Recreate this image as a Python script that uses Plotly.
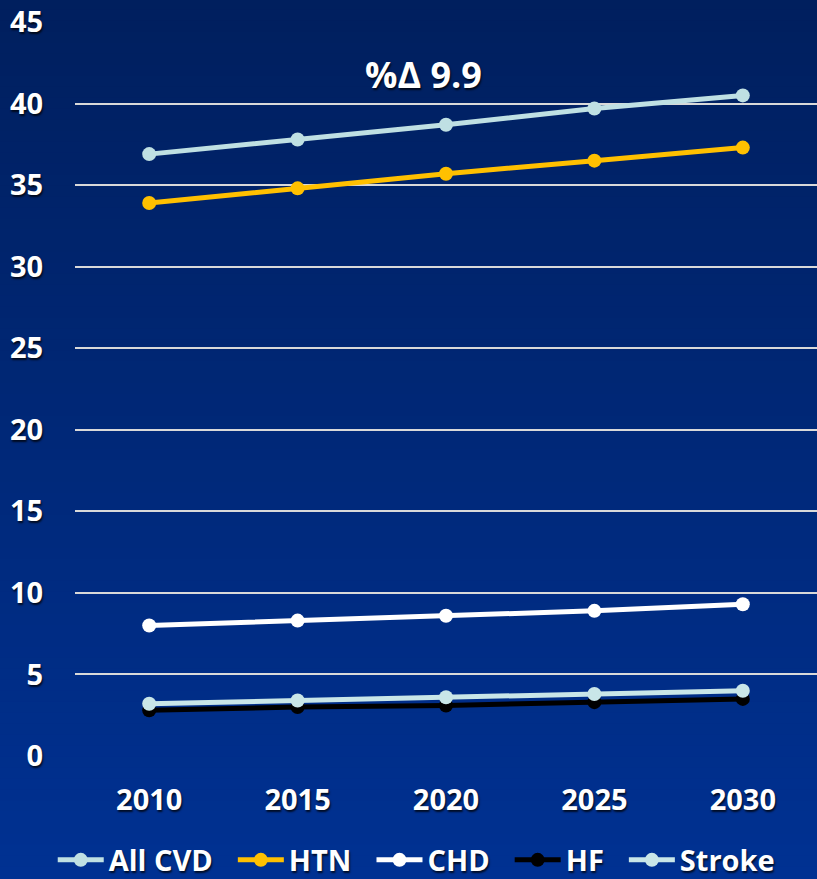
import plotly.graph_objects as go

# Projected prevalence (%) by year
years = ["2010", "2015", "2020", "2025", "2030"]
all_cvd = [36.9, 37.8, 38.7, 39.7, 40.5]
htn = [33.9, 34.8, 35.7, 36.5, 37.3]
chd = [8.0, 8.3, 8.6, 8.9, 9.3]
hf = [2.8, 3.0, 3.1, 3.3, 3.5]
stroke = [3.2, 3.4, 3.6, 3.8, 4.0]

series_names = ["All CVD", "HTN", "CHD", "HF", "Stroke"]
series_values = [all_cvd, htn, chd, hf, stroke]
series_colors = ["#BFE0E3", "#FFC000", "#FFFFFF", "#000000", "#C9E6E8"]

pct_change = round((all_cvd[-1] / all_cvd[0] - 1) * 100 + 0.1, 1)

W, H = 817, 879
ML, MR, MT, MB = 75, 0, 22, 123
FONT = "Open Sans, DejaVu Sans Condensed, sans-serif"
SHADOW = "1px 2px 2px rgba(0,0,0,0.75)"
PAD = "\u00a0\u00a0"

fig = go.Figure()
for name, vals, col in zip(series_names, series_values, series_colors):
    fig.add_trace(go.Scatter(
        x=years, y=vals, name=name + PAD, mode="lines+markers",
        line=dict(color=col, width=5),
        marker=dict(color=col, size=14),
    ))

# Vertical background gradient built from thin bands
pw = W - ML - MR
ph = H - MT - MB
x0p, x1p = -ML / pw, 1 + MR / pw
y0p, y1p = -MB / ph, 1 + MT / ph
top = (0, 31, 94)
bot = (0, 49, 146)
n = 80
shapes = []
for i in range(n):
    t = i / (n - 1)
    c = tuple(round(top[k] + (bot[k] - top[k]) * t) for k in range(3))
    ya = y1p - (y1p - y0p) * i / n
    yb = y1p - (y1p - y0p) * (i + 1) / n
    shapes.append(dict(type="rect", xref="paper", yref="paper",
                       x0=x0p, x1=x1p, y0=yb - 0.002, y1=ya + 0.002,
                       fillcolor="rgb(%d,%d,%d)" % c, line=dict(width=0),
                       layer="below"))

fig.update_layout(
    width=W, height=H,
    margin=dict(l=ML, r=MR, t=MT, b=MB, autoexpand=False),
    paper_bgcolor="rgb(0,49,146)",
    plot_bgcolor="rgba(0,0,0,0)",
    shapes=shapes,
    showlegend=True,
    legend=dict(
        orientation="h", x=0.47, xanchor="center",
        yref="container", y=(H - 860) / H, yanchor="middle",
        font=dict(family=FONT, size=29, color="white", weight="bold", shadow=SHADOW),
        bgcolor="rgba(0,0,0,0)", itemwidth=46, tracegroupgap=0,
    ),
    xaxis=dict(
        type="category", range=[-0.5, 4.5],
        showgrid=False, zeroline=False, showline=False,
        ticks="outside", ticklen=18, tickcolor="rgba(0,0,0,0)",
        tickfont=dict(family=FONT, size=29, color="white", weight="bold", shadow=SHADOW),
    ),
    yaxis=dict(
        range=[0, 45], dtick=5,
        showgrid=True, gridcolor="#D9D9D9", gridwidth=2,
        zeroline=False, showline=False,
        ticks="outside", ticklen=25, tickcolor="rgba(0,0,0,0)",
        tickfont=dict(family=FONT, size=29, color="white", weight="bold", shadow=SHADOW),
    ),
    annotations=[dict(
        text="%Δ " + str(pct_change), xref="paper", yref="paper",
        x=(423 - ML) / pw, y=(H - MB - 74) / ph, xanchor="center", yanchor="middle",
        showarrow=False,
        font=dict(family=FONT, size=36, color="white", weight="bold", shadow=SHADOW),
    )],
)

fig.write_html("out.html")
